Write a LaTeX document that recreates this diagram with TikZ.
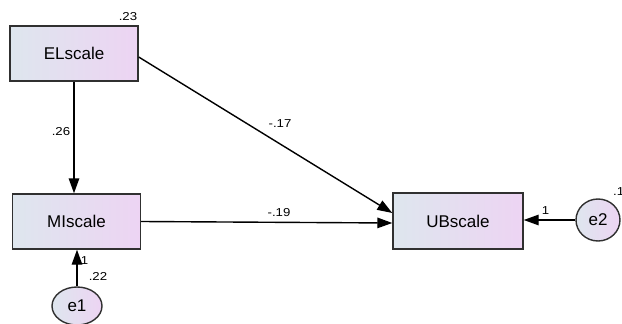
\documentclass[tikz,border=0pt]{standalone}
\usepackage{fontspec}
\setmainfont{Liberation Sans}
\newfontfamily\labfont[FakeStretch=1.15]{Liberation Sans}
\usetikzlibrary{arrows.meta,shapes.geometric}
\definecolor{lblue}{HTML}{DEE6EE}
\definecolor{lpink}{HTML}{EDD4F3}
\definecolor{edgec}{HTML}{303030}
\tikzset{
  varbox/.style={draw=edgec, line width=1.4pt, left color=lblue, right color=lpink, minimum width=128pt, minimum height=55pt, inner sep=0pt, font=\fontsize{17}{19}\selectfont},
  errell/.style={ellipse, draw=edgec, line width=1.4pt, left color=lblue, right color=lpink, inner sep=0pt, font=\fontsize{17}{19}\selectfont},
  path/.style={line width=1.4pt, draw=black, -{Triangle[length=15pt,width=10.5pt]}},
  lab/.style={font=\labfont\fontsize{11.5}{13}\selectfont, inner sep=0pt}
}
\begin{document}
\begin{tikzpicture}[x=1pt,y=-1pt]
\useasboundingbox (0,0) rectangle (622,324);
\node[varbox] (EL) at (74,53.5) {ELscale};
\node[varbox] (MI) at (76.5,221.5) {MIscale};
\node[varbox, minimum width=130pt, minimum height=56pt] (UB) at (458,221) {UBscale};
\node[errell, minimum width=50pt, minimum height=38pt] (e1) at (77,306) {e1};
\node[errell, minimum width=44pt, minimum height=42pt] (e2) at (598,220) {e2};
\draw[path] (EL.south -| 74,0) -- (MI.north -| 74,0);
\draw[path] (EL.east |- 0,57) -- (UB.west |- 0,213);
\draw[path] (MI.east) -- (UB.west |- 0,223);
\draw[path] (e1.north) -- (MI.south -| e1.north);
\draw[path] (e2.west) -- (UB.east |- e2.west);
\node[lab] (l23) at (128,16.5) {.23};
\node[lab] (l26) at (61,131.5) {.26};
\node[lab] (l17) at (280,124) {-.17};
\node[lab] (l19) at (279,212.5) {-.19};
\node[lab] (l1a) at (84.5,260.5) {1};
\node[lab] (l22) at (98,276) {.22};
\node[lab] (l1b) at (545.5,211) {1};
\node[lab, anchor=west] (l1c) at (613,191.5) {.1};
\end{tikzpicture}
\end{document}
